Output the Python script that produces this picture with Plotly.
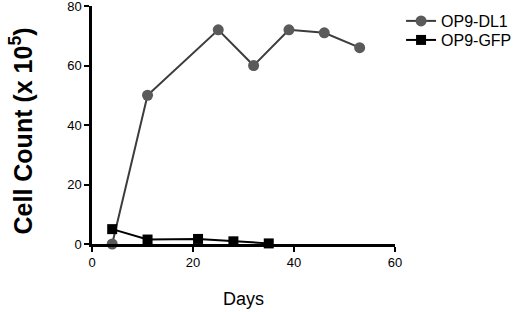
import plotly.graph_objects as go

days_dl1 = [4, 11, 25, 32, 39, 46, 53]
count_dl1 = [0, 50, 72, 60, 72, 71, 66]
days_gfp = [4, 11, 21, 28, 35]
count_gfp = [5, 1.5, 1.7, 0.9, 0.2]
x_ticks = [0, 20, 40, 60]
y_ticks = [0, 20, 40, 60, 80]

FONT = "Liberation Sans, Arial, Helvetica, sans-serif"

fig = go.Figure()
fig.add_trace(go.Scatter(
    x=days_dl1, y=count_dl1, mode="lines+markers", name="OP9-DL1",
    legend="legend",
    line=dict(color="#3c3c3c", width=2),
    marker=dict(symbol="circle", size=11, color="#5a5a5a"),
    cliponaxis=False,
))
fig.add_trace(go.Scatter(
    x=days_gfp, y=count_gfp, mode="lines+markers", name="OP9-GFP",
    legend="legend2",
    line=dict(color="#000000", width=2),
    marker=dict(symbol="square", size=10, color="#000000"),
    cliponaxis=False,
))

leg_common = dict(xanchor="left", yanchor="middle",
                  font=dict(size=16, family=FONT), itemwidth=30,
                  bgcolor="rgba(0,0,0,0)")

fig.update_layout(
    width=520, height=312,
    margin=dict(l=92, r=125, t=6, b=68, autoexpand=False),
    paper_bgcolor="white", plot_bgcolor="white",
    font=dict(family=FONT, color="black", size=13),
    showlegend=True,
    legend=dict(x=1.02, y=0.937, **leg_common),
    legend2=dict(x=1.02, y=0.857, **leg_common),
    xaxis=dict(range=[0, 60], tickvals=x_ticks, showgrid=False, zeroline=False,
               showline=True, linecolor="black", linewidth=2.5,
               ticks="outside", ticklen=5, tickwidth=2, tickcolor="black",
               tickfont=dict(size=13),
               title=dict(text="Days", font=dict(size=18), standoff=24)),
    yaxis=dict(range=[0, 80], tickvals=y_ticks, showgrid=False, zeroline=False,
               showline=True, linecolor="black", linewidth=2.5,
               ticks="outside", ticklen=5, tickwidth=2, tickcolor="black",
               tickfont=dict(size=13), ticklabeloverflow="allow"),
    annotations=[dict(
        text="<b>Cell Count (x 10<sup>5</sup>)</b>",
        xref="paper", yref="paper", x=-0.235, y=0.476,
        xanchor="center", yanchor="middle", textangle=-90,
        showarrow=False, font=dict(size=25, family=FONT),
    )],
)

fig.write_html("out.html", config={"displayModeBar": False},
               post_script="document.body.style.margin='0';document.body.style.overflow='hidden';")
